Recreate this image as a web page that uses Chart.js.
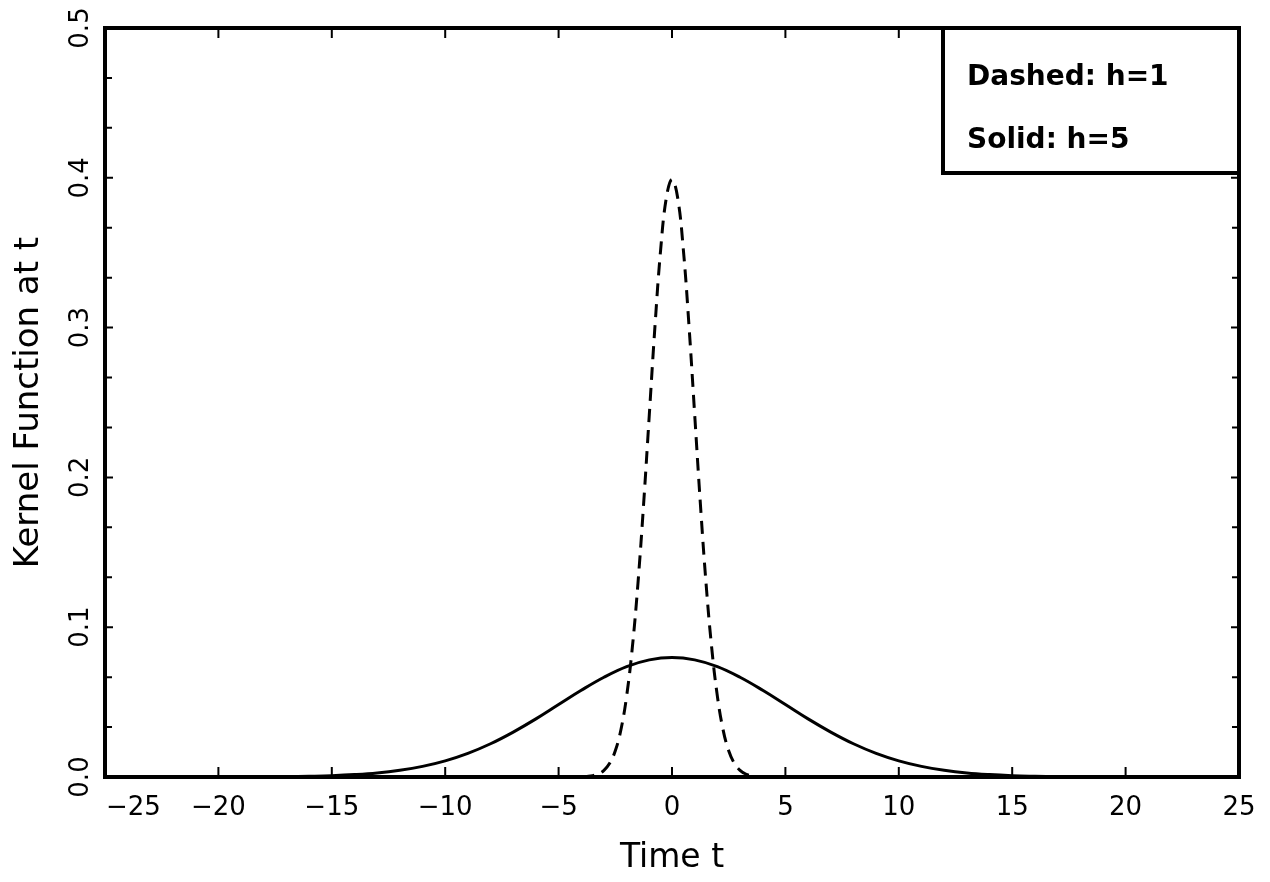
<!DOCTYPE html>
<html>
<head>
<meta charset="utf-8">
<script src="https://cdn.jsdelivr.net/npm/chart.js@4/dist/chart.umd.min.js"></script>
<style>
  html, body { margin: 0; padding: 0; background: #fff; }
  #wrap { width: 1270px; height: 882px; }
</style>
</head>
<body>
<div id="wrap"><canvas id="kernel"></canvas></div>
<script>
// Solid curve (h=5) at integer t
const solidT = [-25, -24, -23, -22, -21, -20, -19, -18, -17, -16, -15, -14, -13, -12, -11, -10, -9, -8, -7, -6, -5, -4, -3, -2, -1,
    0, 1, 2, 3, 4, 5, 6, 7, 8, 9, 10, 11, 12, 13, 14, 15, 16, 17, 18, 19, 20, 21, 22, 23, 24, 25];
const solidK = [0, 0, 0, 0, 0, 0, 0, 0.0001, 0.0002, 0.0005, 0.0009, 0.0016, 0.0027, 0.0045, 0.0071, 0.0108, 0.0158, 0.0222, 0.0300, 0.0388, 0.0484, 0.0579, 0.0666, 0.0737, 0.0782,
    0.0798, 0.0782, 0.0737, 0.0666, 0.0579, 0.0484, 0.0388, 0.0300, 0.0222, 0.0158, 0.0108, 0.0071, 0.0045, 0.0027, 0.0016, 0.0009, 0.0005, 0.0002, 0.0001, 0, 0, 0, 0, 0, 0, 0];

// Dashed curve (h=1)
const dashedT = [-4, -3.75, -3.5, -3.25, -3, -2.75, -2.5, -2.25, -2, -1.75, -1.5, -1.25, -1, -0.75, -0.5, -0.25,
    0, 0.25, 0.5, 0.75, 1, 1.25, 1.5, 1.75, 2, 2.25, 2.5, 2.75, 3, 3.25, 3.5, 3.75, 4];
const dashedK = [0.0001, 0.0004, 0.0009, 0.0020, 0.0044, 0.0091, 0.0175, 0.0317, 0.0540, 0.0863, 0.1295, 0.1826, 0.2420, 0.3011, 0.3521, 0.3867,
    0.3989, 0.3867, 0.3521, 0.3011, 0.2420, 0.1826, 0.1295, 0.0863, 0.0540, 0.0317, 0.0175, 0.0091, 0.0044, 0.0020, 0.0009, 0.0004, 0.0001];

const xTicks = [-25, -20, -15, -10, -5, 0, 5, 10, 15, 20, 25];
const xTickLabels = ['\u221225', '\u221220', '\u221215', '\u221210', '\u22125', '0', '5', '10', '15', '20', '25'];
const yTicks = [0.0, 0.1, 0.2, 0.3, 0.4, 0.5];
const yTickLabels = ['0.0', '0.1', '0.2', '0.3', '0.4', '0.5'];
const legendLines = ['Dashed: h=1', 'Solid: h=5'];

const FONT = '"DejaVu Sans", "Liberation Sans", sans-serif';

const toPoints = (xs, ys) => xs.map((x, i) => ({ x: x, y: ys[i] }));

// frame, inward ticks, tick labels and the text box
const framePlugin = {
    id: 'frame',
    afterDraw(chart) {
        const ctx = chart.ctx;
        const a = chart.chartArea;
        const xs = chart.scales.x, ys = chart.scales.y;
        ctx.save();
        ctx.strokeStyle = '#000';

        // ticks on all four sides
        ctx.lineWidth = 2;
        xTicks.forEach(v => {
            const px = xs.getPixelForValue(v);
            ctx.beginPath();
            ctx.moveTo(px, a.bottom); ctx.lineTo(px, a.bottom - 10);
            ctx.moveTo(px, a.top); ctx.lineTo(px, a.top + 10);
            ctx.stroke();
        });
        for (let i = 0; i <= 15; i++) {
            const py = ys.getPixelForValue(i * 0.1 / 3);
            const len = (i % 3 === 0) ? 8 : 7;
            ctx.beginPath();
            ctx.moveTo(a.left, py); ctx.lineTo(a.left + len, py);
            ctx.moveTo(a.right, py); ctx.lineTo(a.right - len, py);
            ctx.stroke();
        }

        // frame
        ctx.lineWidth = 4;
        ctx.strokeRect(a.left, a.top, a.right - a.left, a.bottom - a.top);

        ctx.fillStyle = '#000';
        ctx.font = '26px ' + FONT;

        // x tick labels, the first one kept inside the frame
        ctx.textBaseline = 'middle';
        xTicks.forEach((v, i) => {
            const px = xs.getPixelForValue(v);
            if (i === 0) {
                ctx.textAlign = 'left';
                ctx.fillText(xTickLabels[i], px + 1, a.bottom + 31);
            } else {
                ctx.textAlign = 'center';
                ctx.fillText(xTickLabels[i], px, a.bottom + 31);
            }
        });

        // rotated y tick labels
        ctx.textAlign = 'center';
        yTicks.forEach((v, i) => {
            const py = ys.getPixelForValue(v);
            ctx.save();
            ctx.translate(a.left - 24, py);
            ctx.rotate(-Math.PI / 2);
            ctx.fillText(yTickLabels[i], 0, 0);
            ctx.restore();
        });

        // text box in the top right corner
        const bx = a.right - 296, by = a.top, bw = 296, bh = 145;
        ctx.fillStyle = '#fff';
        ctx.fillRect(bx, by, bw, bh);
        ctx.lineWidth = 4;
        ctx.strokeRect(bx, by, bw, bh);
        ctx.fillStyle = '#000';
        ctx.font = 'bold 28px ' + FONT;
        ctx.textAlign = 'left';
        ctx.textBaseline = 'alphabetic';
        ctx.fillText(legendLines[0], bx + 24, by + 57);
        ctx.fillText(legendLines[1], bx + 24, by + 120);
        ctx.restore();
    }
};

new Chart(document.getElementById('kernel'), {
    type: 'line',
    data: {
        datasets: [{
            label: 'Solid: h=5',
            data: toPoints(solidT, solidK),
            borderColor: '#000',
            borderWidth: 3,
            pointRadius: 0,
            tension: 0.4,
            fill: false
        }, {
            label: 'Dashed: h=1',
            data: toPoints(dashedT, dashedK),
            borderColor: '#000',
            borderWidth: 3,
            borderDash: [13, 8],
            pointRadius: 0,
            tension: 0.4,
            fill: false
        }]
    },
    options: {
        responsive: true,
        maintainAspectRatio: false,
        animation: false,
        layout: { padding: { top: 28, right: 31, left: 0, bottom: 0 } },
        plugins: {
            legend: { display: false },
            tooltip: { enabled: false }
        },
        scales: {
            x: {
                type: 'linear',
                min: -25,
                max: 25,
                afterBuildTicks: s => { s.ticks = xTicks.map(v => ({ value: v })); },
                afterFit: s => { s.height = 105; },
                grid: { display: false },
                border: { display: false },
                ticks: { display: false },
                title: {
                    display: true,
                    text: 'Time t',
                    color: '#000',
                    padding: { top: 4, bottom: 4 },
                    font: { family: FONT, size: 33 }
                }
            },
            y: {
                type: 'linear',
                min: 0,
                max: 0.5,
                afterFit: s => { s.width = 105; },
                grid: { display: false },
                border: { display: false },
                ticks: { display: false },
                title: {
                    display: true,
                    text: 'Kernel Function at t',
                    color: '#000',
                    padding: { top: 9, bottom: 0 },
                    font: { family: FONT, size: 34 }
                }
            }
        }
    },
    plugins: [framePlugin]
});
</script>
</body>
</html>
